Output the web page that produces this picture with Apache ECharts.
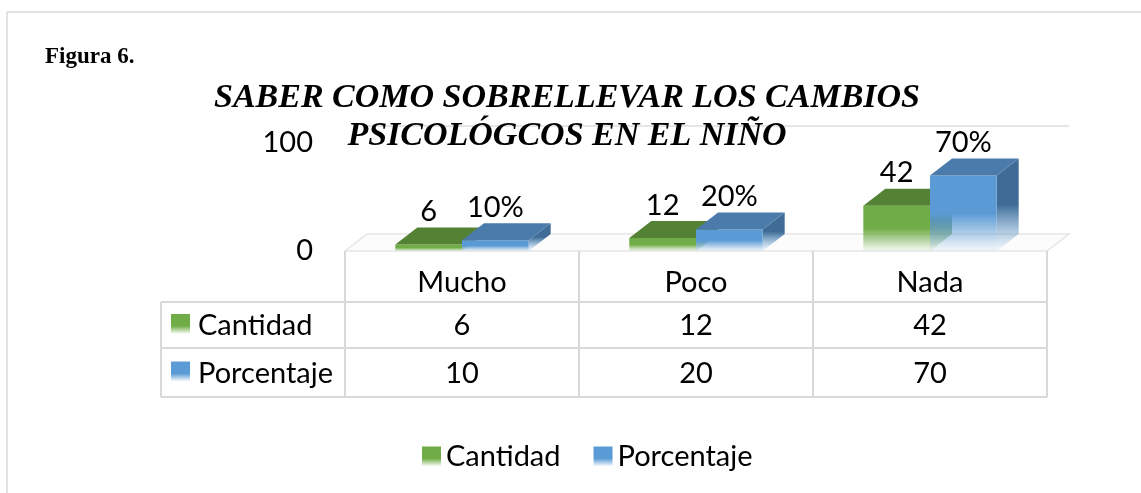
<!DOCTYPE html>
<html>
<head>
<meta charset="utf-8">
<title>Figura 6</title>
<script src="https://cdn.jsdelivr.net/npm/echarts@6/dist/echarts.min.js"></script>
<style>
  html, body { margin: 0; padding: 0; background: #fff; }
  #container { width: 1141px; height: 493px; }
</style>
</head>
<body>
<div id="container"></div>
<script type="text/javascript">
// datos del grafico
var categories = ['Mucho', 'Poco', 'Nada'];
var seriesNames = ['Cantidad', 'Porcentaje'];
var cantidad = [6, 12, 42];
var porcentaje = [10, 20, 70];
var yTicks = [0, 100];

// colores: frente, tapa, lado
var palette = [
  { front: '#70ad47', top: '#548235', side: '#4e7a31', fade: 'rgba(112,173,71,0.04)' },
  { front: '#5b9bd5', top: '#4a7bab', side: '#3f6c97', fade: 'rgba(91,155,213,0.04)' }
];
var DX = 22, DY = -17;
var FONT = 'Lato';
var FS = 29;

// rejilla (tabla debajo usa las mismas columnas)
var gLeft = 345, gRight = 1047, gTop = 143, gBase = 251;

function fadeFill(c, solid, end, from) {
  return new echarts.graphic.LinearGradient(0, 0, 0, 1, [
    { offset: 0, color: solid },
    { offset: from || 0.5, color: solid },
    { offset: 1, color: end }
  ]);
}

function makeRender(idx) {
  var c = palette[idx];
  return function (params, api) {
    var cat = api.value(0), val = api.value(1);
    var base = api.coord([cat, 0]);
    var top = api.coord([cat, val]);
    var band = api.size([1, 0])[0];
    var w = band * 0.285;
    var x0 = base[0] - w + idx * w;
    var h = base[1] - top[1];
    var label = idx === 1 ? val + '%' : String(val);
    return {
      type: 'group',
      children: [
        {
          type: 'polygon',
          shape: { points: [[x0 + w, top[1]], [x0 + w + DX, top[1] + DY], [x0 + w + DX, base[1] + DY], [x0 + w, base[1]]] },
          style: { fill: fadeFill(c, c.side, c.fade) }
        },
        {
          type: 'rect',
          shape: { x: x0, y: top[1], width: w, height: h },
          style: { fill: fadeFill(c, c.front, c.fade) }
        },
        {
          type: 'polygon',
          shape: { points: [[x0, top[1]], [x0 + w, top[1]], [x0 + w + DX, top[1] + DY], [x0 + DX, top[1] + DY]] },
          style: { fill: c.top }
        },
        {
          type: 'text',
          style: {
            text: label, x: x0 + w / 2, y: top[1] + DY - 1,
            align: 'center', verticalAlign: 'bottom',
            fontFamily: FONT, fontSize: FS, fill: '#000'
          }
        }
      ]
    };
  };
}

// tabla de datos
var graphics = [];
var lineStyle = { stroke: '#d9d9d9', lineWidth: 2 };
function hline(x1, x2, y) { graphics.push({ type: 'line', shape: { x1: x1, y1: y, x2: x2, y2: y }, style: lineStyle, silent: true }); }
function vline(x, y1, y2) { graphics.push({ type: 'line', shape: { x1: x, y1: y1, x2: x, y2: y2 }, style: lineStyle, silent: true }); }

// marco
graphics.push({ type: 'line', shape: { x1: 7, y1: 12, x2: 1141, y2: 12 }, style: { stroke: '#d9d9d9', lineWidth: 1.5 } });
graphics.push({ type: 'line', shape: { x1: 7, y1: 12, x2: 7, y2: 493 }, style: { stroke: '#d9d9d9', lineWidth: 1.5 } });

// piso y linea del fondo
graphics.push({
  type: 'polygon', z: -1,
  shape: { points: [[gLeft, gBase], [gRight, gBase], [gRight + DX, gBase + DY], [gLeft + DX, gBase + DY]] },
  style: { fill: '#fcfcfc', stroke: '#e6e6e6', lineWidth: 1.5 }
});
graphics.push({ type: 'line', z: -1, shape: { x1: gLeft + DX, y1: gTop + DY, x2: gRight + DX, y2: gTop + DY }, style: { stroke: '#e6e6e6', lineWidth: 2 } });

var colW = (gRight - gLeft) / categories.length;
var rowY = [gBase, 302, 348, 397];
hline(161, gRight, rowY[1]);
hline(161, gRight, rowY[2]);
hline(161, gRight, rowY[3]);
vline(161, rowY[1], rowY[3]);
for (var k = 0; k <= categories.length; k++) vline(gLeft + k * colW, rowY[0], rowY[3]);

var rows = [cantidad, porcentaje];
categories.forEach(function (name, i) {
  var cx = gLeft + colW * (i + 0.5);
  graphics.push({ type: 'text', style: { text: name, x: cx, y: (rowY[0] + rowY[1]) / 2 + 6, align: 'center', verticalAlign: 'middle', fontFamily: FONT, fontSize: FS, fill: '#000' } });
  rows.forEach(function (vals, r) {
    graphics.push({ type: 'text', style: { text: String(vals[i]), x: cx, y: (rowY[r + 1] + rowY[r + 2]) / 2 + 1, align: 'center', verticalAlign: 'middle', fontFamily: FONT, fontSize: FS, fill: '#000' } });
  });
});
seriesNames.forEach(function (name, r) {
  var cy = (rowY[r + 1] + rowY[r + 2]) / 2;
  var c = palette[r];
  graphics.push({ type: 'rect', shape: { x: 171, y: cy - 11, width: 19, height: 20 }, style: { fill: fadeFill(c, c.front, 'rgba(255,255,255,1)', 0.6) } });
  graphics.push({ type: 'text', style: { text: name, x: 198, y: cy + 1, align: 'left', verticalAlign: 'middle', fontFamily: FONT, fontSize: FS, fill: '#000' } });
});

var myChart = echarts.init(document.getElementById('container'));
var option = {
  animation: false,
  title: [
    { text: 'Figura 6.', left: 45, top: 46, padding: 0, textStyle: { fontFamily: 'Liberation Serif', fontWeight: 'bold', fontSize: 23, color: '#000' } },
    { text: 'SABER COMO SOBRELLEVAR LOS CAMBIOS', left: 562, top: 76, textAlign: 'center', textStyle: { fontFamily: 'Liberation Serif', fontWeight: 'bold', fontStyle: 'italic', fontSize: 34, color: '#000' } },
    { text: 'PSICOLÓGCOS EN EL NIÑO', left: 562, top: 114, textAlign: 'center', textStyle: { fontFamily: 'Liberation Serif', fontWeight: 'bold', fontStyle: 'italic', fontSize: 34, color: '#000' } }
  ],
  legend: {
    left: 417, top: 437,
    icon: 'rect', itemWidth: 19, itemHeight: 20, itemGap: 33,
    textStyle: { fontFamily: FONT, fontSize: FS, color: '#000' },
    data: seriesNames.map(function (n, r) {
      return { name: n, itemStyle: { color: fadeFill(palette[r], palette[r].front, 'rgba(255,255,255,1)', 0.6) } };
    })
  },
  grid: { left: gLeft, right: 1141 - gRight, top: gTop, bottom: 493 - gBase },
  xAxis: {
    type: 'category', data: categories,
    axisLine: { show: false }, axisTick: { show: false }, axisLabel: { show: false }, splitLine: { show: false }
  },
  yAxis: {
    type: 'value', min: yTicks[0], max: yTicks[yTicks.length - 1], interval: yTicks[1] - yTicks[0],
    axisLine: { show: false }, axisTick: { show: false }, splitLine: { show: false },
    axisLabel: { margin: 32, fontFamily: FONT, fontSize: FS, color: '#000' }
  },
  graphic: graphics,
  series: [
    { name: seriesNames[0], type: 'custom', clip: false, renderItem: makeRender(0), data: cantidad.map(function (v, i) { return [i, v]; }), itemStyle: { color: palette[0].front } },
    { name: seriesNames[1], type: 'custom', clip: false, renderItem: makeRender(1), data: porcentaje.map(function (v, i) { return [i, v]; }), itemStyle: { color: palette[1].front } }
  ]
};
myChart.setOption(option);
</script>
</body>
</html>
